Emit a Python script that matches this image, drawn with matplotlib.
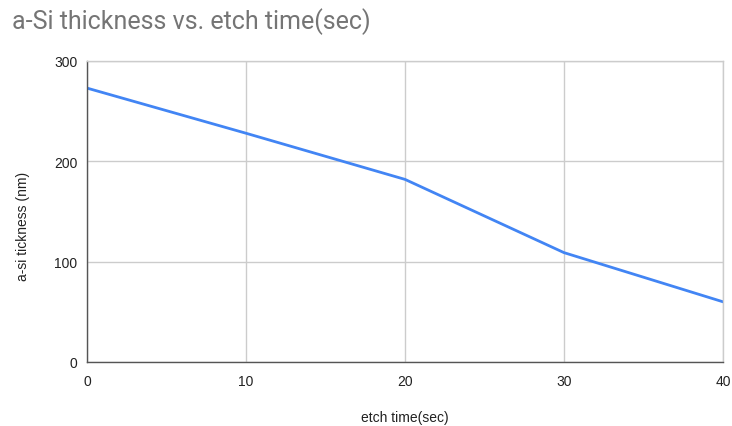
import matplotlib
matplotlib.use("Agg")
import matplotlib.pyplot as plt

etch_time = [0, 10, 20, 30, 40]
thickness = [273, 228, 182, 109, 60]
x_ticks = [0, 10, 20, 30, 40]
y_ticks = [0, 100, 200, 300]

plt.rcParams['font.family'] = ['Liberation Sans', 'DejaVu Sans']

fig = plt.figure(figsize=(7.32, 4.27), dpi=100)
ax = fig.add_axes([87/732, 1-363/427, (723-87)/732, (363-62)/427])

ax.plot(etch_time, thickness, color='#4285F4', lw=2, solid_joinstyle='round')
ax.set_xlim(0, 40)
ax.set_ylim(0, 300)
ax.set_xticks(x_ticks)
ax.set_yticks(y_ticks)
ax.grid(True, color='#cccccc', lw=1)
ax.set_axisbelow(True)
for s in ['top', 'right']:
    ax.spines[s].set_color('#cccccc')
    ax.spines[s].set_linewidth(1)
ax.spines['left'].set_color('#555555')
ax.spines['bottom'].set_color('#555555')
ax.spines['left'].set_linewidth(1)
ax.spines['bottom'].set_linewidth(1)
ax.tick_params(axis='x', length=0, labelsize=10, colors='#222222', pad=9)
ax.tick_params(axis='y', length=0, labelsize=10, colors='#222222', pad=7)

fig.text(12/732, 1-22/427, 'a-Si thickness vs. etch time(sec)', fontsize=18,
         color='#757575', va='center', ha='left', family=['Roboto', 'DejaVu Sans'])
fig.text(405/732, 1-418/427, 'etch time(sec)', fontsize=10, color='#222222',
         ha='center', va='center')
fig.text(23/732, 1-226/427, 'a-si tickness (nm)', fontsize=10, color='#222222',
         ha='center', va='center', rotation=90)

fig.savefig('out.png', dpi=100)
